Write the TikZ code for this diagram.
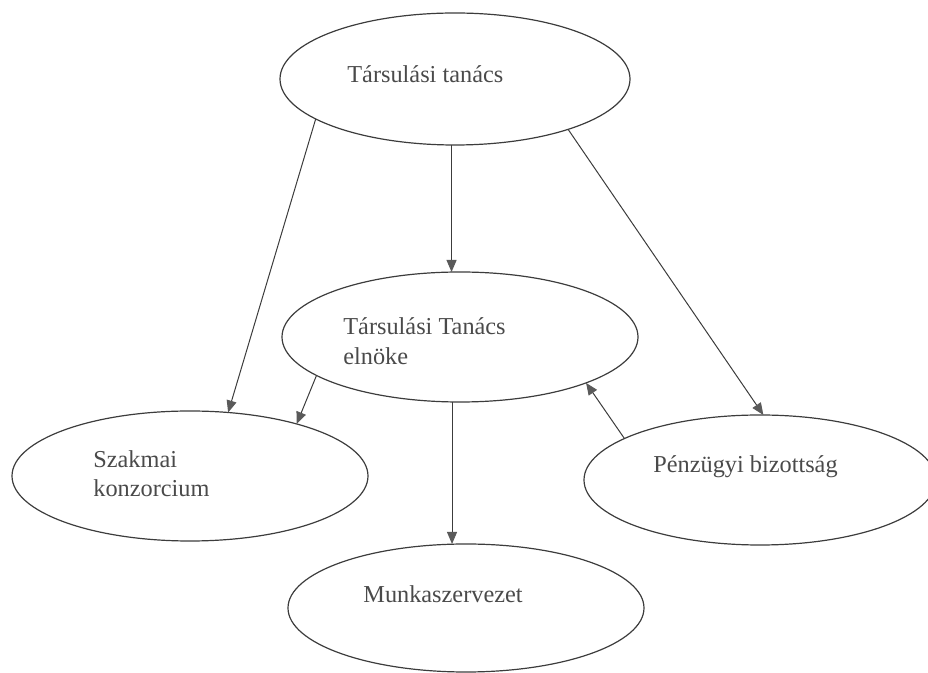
\documentclass[tikz,border=0pt]{standalone}
\usepackage{fontspec}
\setmainfont{Liberation Serif}
\usetikzlibrary{shapes.geometric,arrows.meta}
\definecolor{vonal}{HTML}{3C3C3C}
\definecolor{szoveg}{HTML}{4A4A4A}
\definecolor{hegy}{HTML}{5A5A5A}

\begin{document}
\begin{tikzpicture}[x=0.5pt, y=-0.5pt,
		oval/.style={draw=vonal, line width=0.6pt, ellipse, inner sep=0pt, outer sep=0pt, minimum width=178pt, minimum height=65pt},
		felirat/.style={anchor=base west, inner sep=0pt, text=szoveg, font=\fontsize{12.15}{15}\selectfont},
		nyil/.style={draw=vonal, line width=0.5pt, -{Triangle[length=6pt, width=5pt, color=hegy]}}]
		\useasboundingbox (0,0) rectangle (928,673);

		% ellipszisek
		\node [oval, minimum width=175pt, minimum height=66pt] (tanacs) at (455,79) {};
		\node [oval] (elnok) at (460,337) {};
		\node [oval] (konz) at (190,476) {};
		\node [oval, minimum width=176pt] (penz) at (760,480) {};
		\node [oval, minimum height=64pt] (munka) at (466,608) {};

		% feliratok
		\node [felirat] (tanacs-t) at (347,83) {Társulási tanács};
		\node [felirat] (elnok-t1) at (343,335) {Társulási Tanács};
		\node [felirat] (elnok-t2) at (343,365) {elnöke};
		\node [felirat] (konz-t1) at (93,468) {Szakmai};
		\node [felirat] (konz-t2) at (93,497) {konzorcium};
		\node [felirat] (penz-t) at (653,473) {Pénzügyi bizottság};
		\node [felirat] (munka-t) at (363,603) {Munkaszervezet};

		% nyilak
		\draw [nyil] (tanacs.267) -- (tanacs.267 |- elnok.north);
		\draw [nyil] (tanacs.196) -- (konz.59);
		\draw [nyil] (tanacs.336) -- (penz.87);
		\draw [nyil] (elnok.195) -- (konz.26);
		\draw [nyil] (elnok.263) -- (elnok.263 |- munka.north);
		\draw [nyil] (penz.163) -- (elnok.340);
	\end{tikzpicture}
\end{document}
